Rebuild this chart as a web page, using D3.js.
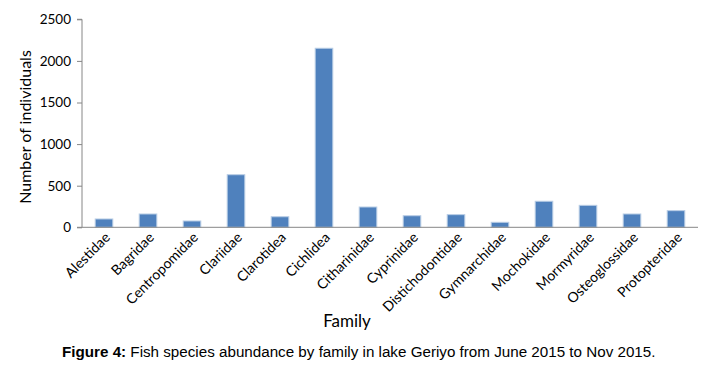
<!DOCTYPE html>
<html><head><meta charset="utf-8">
<script src="https://cdn.jsdelivr.net/npm/d3@7"></script>
<style>body{margin:0;background:#fff}svg{display:block}</style>
</head><body>
<script>
const families = ["Alestidae","Bagridae","Centropomidae","Clariidae","Clarotidea","Cichlidea","Citharinidae","Cyprinidae","Distichodontidae","Gymnarchidae","Mochokidae","Mormyridae","Osteoglossidae","Protopteridae"];
const counts = [100,160,76,632,127,2152,244,139,152,60,313,264,160,200];
const yTicks = [0,500,1000,1500,2000,2500];

const W=718,H=365;
const svg=d3.select("body").append("svg").attr("width",W).attr("height",H);
const x=d3.scaleBand().domain(families).range([82,698]).paddingInner(0.6).paddingOuter(0.3);
const y=d3.scaleLinear().domain([0,2500]).range([227.3,19.3]);
const font="Lato, 'Open Sans', sans-serif";

svg.append("g").selectAll("rect").data(families).join("rect")
  .attr("x",d=>x(d)).attr("width",x.bandwidth())
  .attr("y",(d,i)=>y(counts[i])).attr("height",(d,i)=>y(0)-y(counts[i]))
  .attr("fill","#4f81bd").attr("stroke","#b9cde5").attr("stroke-width",1);

const ya=svg.append("g").attr("transform","translate(82,0)")
  .call(d3.axisLeft(y).tickValues(yTicks).tickSize(5).tickPadding(6).tickFormat(d3.format("d")));
ya.selectAll("path,line").attr("stroke","#868686");
ya.select(".domain").attr("d","M-5,19.3H0V227.3H-5");
ya.selectAll("text").attr("font-family",font).attr("font-size",13.5).attr("fill","#000");

const xa=svg.append("g").attr("transform","translate(0,227.3)")
  .call(d3.axisBottom(x).tickSize(0).tickPadding(0));
xa.select(".domain").attr("d","M82,0H698").attr("stroke","#868686");
xa.selectAll("text").attr("font-family",font).attr("font-size",14).attr("fill","#000")
  .attr("text-anchor","end").attr("dy",null).attr("y",0)
  .attr("transform","translate(7,11) rotate(-45)");

svg.append("text").attr("transform","translate(31,127) rotate(-90)")
  .attr("text-anchor","middle").attr("font-family",font).attr("font-size",16).text("Number of individuals");
svg.append("text").attr("x",347).attr("y",327).attr("text-anchor","middle")
  .attr("font-family",font).attr("font-size",17).text("Family");
const cap=svg.append("text").attr("x",62).attr("y",357).attr("font-family","'Liberation Sans', Arial, sans-serif").attr("font-size",15.2);
cap.append("tspan").attr("font-weight","bold").text("Figure 4:");
cap.append("tspan").text(" Fish species abundance by family in lake Geriyo from June 2015 to Nov 2015.");
</script>
</body></html>
